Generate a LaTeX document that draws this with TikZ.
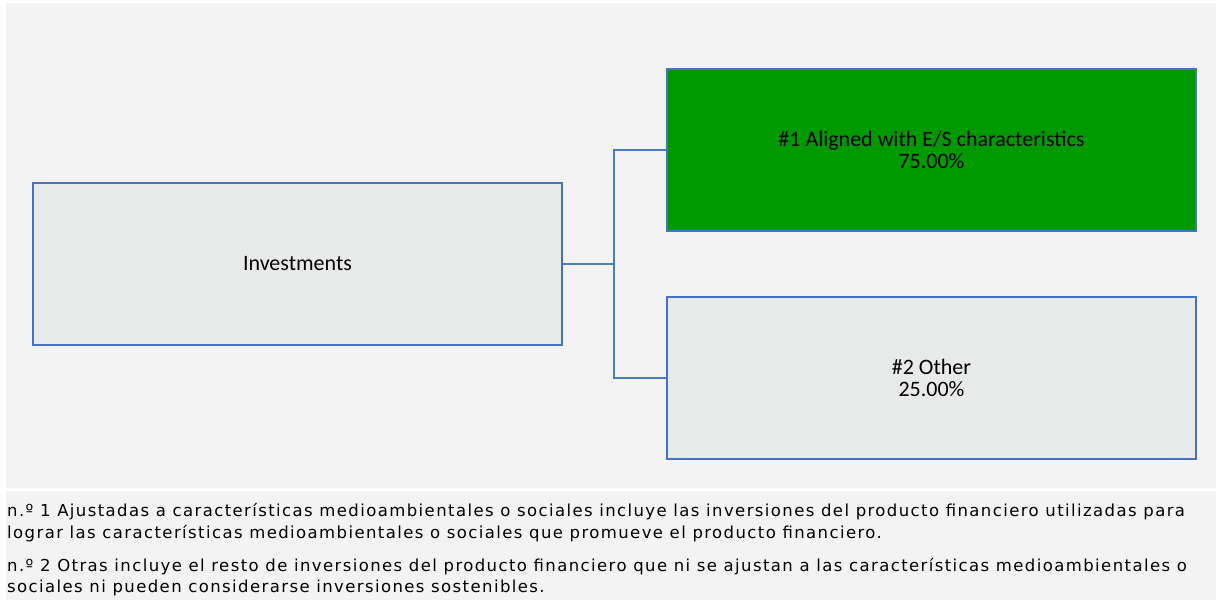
\documentclass[tikz,border=0pt]{standalone}
\usepackage{fontspec}
\setmainfont{Carlito}
\newfontfamily\notefont[LetterSpace=8.5]{DejaVu Sans}
\definecolor{panelgray}{HTML}{F3F3F3}
\definecolor{boxgray}{HTML}{E8E9E9}
\definecolor{boxblue}{HTML}{4472C4}
\definecolor{linkblue}{HTML}{4A7EBB}
\definecolor{esgreen}{HTML}{009900}
\tikzset{
  box/.style={draw=boxblue,line width=2pt,fill=boxgray,minimum width=529pt,minimum height=162pt,
    align=center,inner sep=0pt,font=\fontsize{22}{22}\selectfont},
  link/.style={draw=linkblue,line width=2pt},
  note/.style={anchor=base west,inner sep=0pt,font=\notefont\fontsize{16.5}{22}\selectfont}
}

\begin{document}
\begin{tikzpicture}[x=1pt,y=-1pt]
            \useasboundingbox (0,0) rectangle (1221,600);
            \fill[white] (0,0) rectangle (1221,600);
            \fill[panelgray] (6,3) rectangle (1216,488);
            \fill[panelgray] (6,491) rectangle (1216,600);
            \node[box] (inv) at (297.5,264) {Investments};
            \node[box,fill=esgreen] (aligned) at (931.5,150) {\#1 Aligned with E/S characteristics\\75.00\%};
            \node[box] (other) at (931.5,378) {\#2 Other\\25.00\%};
            \coordinate (split) at (614,264);
            \draw[link] (inv.east) -- (split) |- (aligned.west);
            \draw[link] (split) |- (other.west);
            \node[note] (n1a) at (7,516) {n.º 1 Ajustadas a características medioambientales o sociales incluye las inversiones del producto financiero utilizadas para};
            \node[note] (n1b) at (7,538) {lograr las características medioambientales o sociales que promueve el producto financiero.};
            \node[note] (n2a) at (7,571) {n.º 2 Otras incluye el resto de inversiones del producto financiero que ni se ajustan a las características medioambientales o};
            \node[note] (n2b) at (7,592) {sociales ni pueden considerarse inversiones sostenibles.};
        \end{tikzpicture}
\end{document}
